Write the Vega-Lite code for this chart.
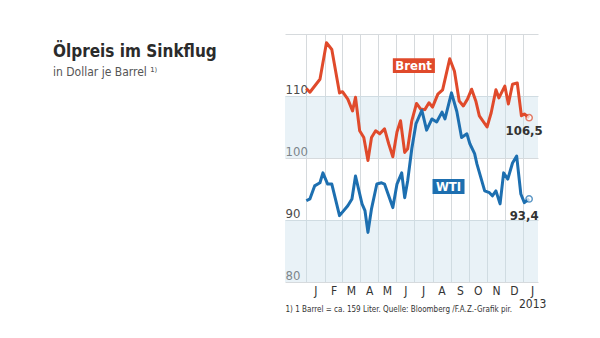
{
  "$schema": "https://vega.github.io/schema/vega-lite/v6.json",
  "width": 253,
  "height": 248,
  "autosize": "none",
  "padding": {"left": 285, "top": 34, "right": 62, "bottom": 56},
  "background": "white",
  "config": {
    "font": "DejaVu Sans Condensed, Liberation Sans Narrow, Liberation Sans, sans-serif",
    "view": {"stroke": null},
    "axisX": {"labelOverlap": false},
    "axisY": {"labelOverlap": false}
  },
  "title": {
    "text": "Ölpreis im Sinkflug",
    "subtitle": "in Dollar je Barrel ¹⁾",
    "anchor": "start",
    "frame": "group",
    "orient": "top",
    "offset": 0,
    "dx": -232,
    "dy": 58,
    "fontSize": 17,
    "fontWeight": "bold",
    "color": "#2b2b2b",
    "subtitleFontSize": 12,
    "subtitleColor": "#555555",
    "subtitlePadding": 6
  },
  "datasets": {
    "bands": [{"lo": 100, "hi": 110}, {"lo": 80, "hi": 90}],
    "prices": [
      {"series": "Brent", "date": "2012-01-01", "value": 111.2},
      {"series": "Brent", "date": "2012-01-07", "value": 110.6},
      {"series": "Brent", "date": "2012-01-24", "value": 112.7},
      {"series": "Brent", "date": "2012-02-04", "value": 118.6},
      {"series": "Brent", "date": "2012-02-13", "value": 117.5},
      {"series": "Brent", "date": "2012-02-26", "value": 110.5},
      {"series": "Brent", "date": "2012-03-02", "value": 110.7},
      {"series": "Brent", "date": "2012-03-11", "value": 109.5},
      {"series": "Brent", "date": "2012-03-19", "value": 107.6},
      {"series": "Brent", "date": "2012-03-24", "value": 109.8},
      {"series": "Brent", "date": "2012-03-31", "value": 104.4},
      {"series": "Brent", "date": "2012-04-07", "value": 103.3},
      {"series": "Brent", "date": "2012-04-14", "value": 99.6},
      {"series": "Brent", "date": "2012-04-20", "value": 103.3},
      {"series": "Brent", "date": "2012-04-27", "value": 104.4},
      {"series": "Brent", "date": "2012-05-04", "value": 103.9},
      {"series": "Brent", "date": "2012-05-12", "value": 104.7},
      {"series": "Brent", "date": "2012-05-19", "value": 102.3},
      {"series": "Brent", "date": "2012-05-26", "value": 100.2},
      {"series": "Brent", "date": "2012-06-02", "value": 104.2},
      {"series": "Brent", "date": "2012-06-08", "value": 106.0},
      {"series": "Brent", "date": "2012-06-15", "value": 100.9},
      {"series": "Brent", "date": "2012-06-20", "value": 101.5},
      {"series": "Brent", "date": "2012-06-27", "value": 106.0},
      {"series": "Brent", "date": "2012-07-05", "value": 108.8},
      {"series": "Brent", "date": "2012-07-12", "value": 107.9},
      {"series": "Brent", "date": "2012-07-19", "value": 107.8},
      {"series": "Brent", "date": "2012-07-26", "value": 108.9},
      {"series": "Brent", "date": "2012-08-01", "value": 108.2},
      {"series": "Brent", "date": "2012-08-10", "value": 110.3},
      {"series": "Brent", "date": "2012-08-18", "value": 111.0},
      {"series": "Brent", "date": "2012-08-30", "value": 116.0},
      {"series": "Brent", "date": "2012-09-07", "value": 114.0},
      {"series": "Brent", "date": "2012-09-15", "value": 109.2},
      {"series": "Brent", "date": "2012-09-22", "value": 108.4},
      {"series": "Brent", "date": "2012-09-29", "value": 109.5},
      {"series": "Brent", "date": "2012-10-06", "value": 111.1},
      {"series": "Brent", "date": "2012-10-13", "value": 109.2},
      {"series": "Brent", "date": "2012-10-19", "value": 106.8},
      {"series": "Brent", "date": "2012-11-01", "value": 105.0},
      {"series": "Brent", "date": "2012-11-08", "value": 107.3},
      {"series": "Brent", "date": "2012-11-16", "value": 111.0},
      {"series": "Brent", "date": "2012-11-21", "value": 109.7},
      {"series": "Brent", "date": "2012-12-01", "value": 111.6},
      {"series": "Brent", "date": "2012-12-07", "value": 108.7},
      {"series": "Brent", "date": "2012-12-14", "value": 111.9},
      {"series": "Brent", "date": "2012-12-22", "value": 112.1},
      {"series": "Brent", "date": "2012-12-29", "value": 106.8},
      {"series": "Brent", "date": "2013-01-03", "value": 107.1},
      {"series": "Brent", "date": "2013-01-11", "value": 106.5},
      {"series": "WTI", "date": "2012-01-01", "value": 93.1},
      {"series": "WTI", "date": "2012-01-07", "value": 93.4},
      {"series": "WTI", "date": "2012-01-15", "value": 95.5},
      {"series": "WTI", "date": "2012-01-24", "value": 96.0},
      {"series": "WTI", "date": "2012-01-29", "value": 97.6},
      {"series": "WTI", "date": "2012-02-06", "value": 95.8},
      {"series": "WTI", "date": "2012-02-13", "value": 95.8},
      {"series": "WTI", "date": "2012-02-26", "value": 90.7},
      {"series": "WTI", "date": "2012-03-11", "value": 92.3},
      {"series": "WTI", "date": "2012-03-18", "value": 93.4},
      {"series": "WTI", "date": "2012-03-24", "value": 97.1},
      {"series": "WTI", "date": "2012-04-04", "value": 92.6},
      {"series": "WTI", "date": "2012-04-09", "value": 91.5},
      {"series": "WTI", "date": "2012-04-14", "value": 88.0},
      {"series": "WTI", "date": "2012-04-20", "value": 91.8},
      {"series": "WTI", "date": "2012-04-29", "value": 95.8},
      {"series": "WTI", "date": "2012-05-07", "value": 96.0},
      {"series": "WTI", "date": "2012-05-12", "value": 95.8},
      {"series": "WTI", "date": "2012-05-26", "value": 92.0},
      {"series": "WTI", "date": "2012-06-02", "value": 95.8},
      {"series": "WTI", "date": "2012-06-10", "value": 97.6},
      {"series": "WTI", "date": "2012-06-15", "value": 93.6},
      {"series": "WTI", "date": "2012-06-20", "value": 96.3},
      {"series": "WTI", "date": "2012-06-27", "value": 101.5},
      {"series": "WTI", "date": "2012-07-04", "value": 105.5},
      {"series": "WTI", "date": "2012-07-14", "value": 107.7},
      {"series": "WTI", "date": "2012-07-22", "value": 104.5},
      {"series": "WTI", "date": "2012-07-31", "value": 106.3},
      {"series": "WTI", "date": "2012-08-08", "value": 105.8},
      {"series": "WTI", "date": "2012-08-17", "value": 107.4},
      {"series": "WTI", "date": "2012-08-22", "value": 106.3},
      {"series": "WTI", "date": "2012-09-02", "value": 110.5},
      {"series": "WTI", "date": "2012-09-11", "value": 107.5},
      {"series": "WTI", "date": "2012-09-19", "value": 103.3},
      {"series": "WTI", "date": "2012-09-28", "value": 103.9},
      {"series": "WTI", "date": "2012-10-03", "value": 102.3},
      {"series": "WTI", "date": "2012-10-11", "value": 100.7},
      {"series": "WTI", "date": "2012-10-15", "value": 99.0},
      {"series": "WTI", "date": "2012-10-28", "value": 94.7},
      {"series": "WTI", "date": "2012-11-05", "value": 94.4},
      {"series": "WTI", "date": "2012-11-10", "value": 93.9},
      {"series": "WTI", "date": "2012-11-16", "value": 94.7},
      {"series": "WTI", "date": "2012-11-23", "value": 92.6},
      {"series": "WTI", "date": "2012-11-29", "value": 97.6},
      {"series": "WTI", "date": "2012-12-06", "value": 96.6},
      {"series": "WTI", "date": "2012-12-14", "value": 99.2},
      {"series": "WTI", "date": "2012-12-21", "value": 100.3},
      {"series": "WTI", "date": "2012-12-28", "value": 94.2},
      {"series": "WTI", "date": "2013-01-03", "value": 92.8},
      {"series": "WTI", "date": "2013-01-11", "value": 93.4}
    ],
    "ends": [
      {"series": "Brent", "date": "2013-01-11", "value": 106.5, "label": "106,5"},
      {"series": "WTI", "date": "2013-01-11", "value": 93.4, "label": "93,4"}
    ],
    "tags": [
      {"series": "Brent", "start": "2012-05-26", "end": "2012-08-05", "mid": "2012-06-30", "top": 116.1, "bottom": 113.7, "center": 114.9},
      {"series": "WTI", "start": "2012-08-01", "end": "2012-09-24", "mid": "2012-08-28", "top": 96.6, "bottom": 94.2, "center": 95.4}
    ]
  },
  "layer": [
    {
      "data": {"name": "bands"},
      "mark": {"type": "rect", "color": "#c9dfeb", "opacity": 0.4},
      "encoding": {
        "y": {
          "field": "lo", "type": "quantitative",
          "scale": {"domain": [80, 120], "nice": false, "zero": false},
          "axis": {
            "values": [80, 90, 100, 110, 120],
            "labelExpr": "datum.value == 120 ? '' : datum.label",
            "labelAlign": "left",
            "labelBaseline": "alphabetic",
            "labelOffset": -3,
            "labelPadding": 0,
            "labelFlush": false,
            "labelOverlap": false,
            "labelFontSize": 13,
            "labelColor": "#4a4a4a",
            "ticks": false,
            "domain": false,
            "grid": true,
            "gridColor": "#d6dadd",
            "title": null
          }
        },
        "y2": {"field": "hi"}
      }
    },
    {
      "data": {"name": "prices"},
      "mark": {"type": "line", "strokeWidth": 3, "strokeJoin": "round", "interpolate": "linear"},
      "encoding": {
        "x": {
          "field": "date", "type": "temporal",
          "scale": {"type": "utc", "domain": [{"year": 2011, "month": 11, "date": 26, "utc": true}, {"year": 2013, "month": 1, "date": 26, "utc": true}], "nice": false},
          "axis": {
            "tickCount": {"interval": "month", "step": 1},
            "labelExpr": "utcyear(datum.value) == 2011 ? '' : utcyear(datum.value) == 2013 ? ['J', '2013'] : ['J','F','M','A','M','J','J','A','S','O','N','D'][utcmonth(datum.value)]",
            "labelOffset": 9,
            "labelAlign": "center",
            "labelFlush": false,
            "labelOverlap": false,
            "labelFontSize": 12,
            "labelColor": "#333333",
            "labelPadding": 3,
            "labelLineHeight": 13,
            "ticks": false,
            "domain": false,
            "grid": true,
            "gridColor": "#d6dadd",
            "gridOpacity": {"condition": {"test": "utcyear(datum.value) == 2011", "value": 0}, "value": 1},
            "gridWidth": 1,
            "title": "1) 1 Barrel = ca. 159 Liter.  Quelle: Bloomberg /F.A.Z.-Grafik pir.",
            "titleFontSize": 8,
            "titleFontWeight": "normal",
            "titleColor": "#333333",
            "titleAnchor": "start",
            "titleAlign": "left",
            "titleBaseline": "alphabetic",
            "titleX": 0,
            "titleY": 29
          }
        },
        "y": {"field": "value", "type": "quantitative"},
        "color": {"field": "series", "type": "nominal", "scale": {"domain": ["Brent", "WTI"], "range": ["#e04a2b", "#1d6fb0"]}, "legend": null}
      }
    },
    {
      "data": {"name": "ends"},
      "mark": {"type": "point", "shape": "circle", "filled": true, "fill": "white", "size": 40, "strokeWidth": 1.5},
      "encoding": {
        "x": {"field": "date", "type": "temporal"},
        "y": {"field": "value", "type": "quantitative"},
        "stroke": {"field": "series", "type": "nominal", "scale": {"domain": ["Brent", "WTI"], "range": ["#e04a2b", "#1d6fb0"]}, "legend": null}
      }
    },
    {
      "data": {"name": "ends"},
      "transform": [{"filter": "datum.series == 'Brent'"}],
      "mark": {"type": "text", "fontWeight": "bold", "fontSize": 13, "color": "#333333", "align": "center", "baseline": "middle", "dx": -5, "dy": 13},
      "encoding": {
        "x": {"field": "date", "type": "temporal"},
        "y": {"field": "value", "type": "quantitative"},
        "text": {"field": "label"}
      }
    },
    {
      "data": {"name": "ends"},
      "transform": [{"filter": "datum.series == 'WTI'"}],
      "mark": {"type": "text", "fontWeight": "bold", "fontSize": 13, "color": "#333333", "align": "center", "baseline": "middle", "dx": -5, "dy": 17},
      "encoding": {
        "x": {"field": "date", "type": "temporal"},
        "y": {"field": "value", "type": "quantitative"},
        "text": {"field": "label"}
      }
    },
    {
      "data": {"name": "tags"},
      "mark": {"type": "rect"},
      "encoding": {
        "x": {"field": "start", "type": "temporal"},
        "x2": {"field": "end"},
        "y": {"field": "top", "type": "quantitative"},
        "y2": {"field": "bottom"},
        "fill": {"field": "series", "type": "nominal", "scale": {"domain": ["Brent", "WTI"], "range": ["#e04a2b", "#1d6fb0"]}, "legend": null}
      }
    },
    {
      "data": {"name": "tags"},
      "mark": {"type": "text", "color": "white", "fontWeight": "bold", "fontSize": 13, "align": "center", "baseline": "middle"},
      "encoding": {
        "x": {"field": "mid", "type": "temporal"},
        "y": {"field": "center", "type": "quantitative"},
        "text": {"field": "series"}
      }
    }
  ]
}
